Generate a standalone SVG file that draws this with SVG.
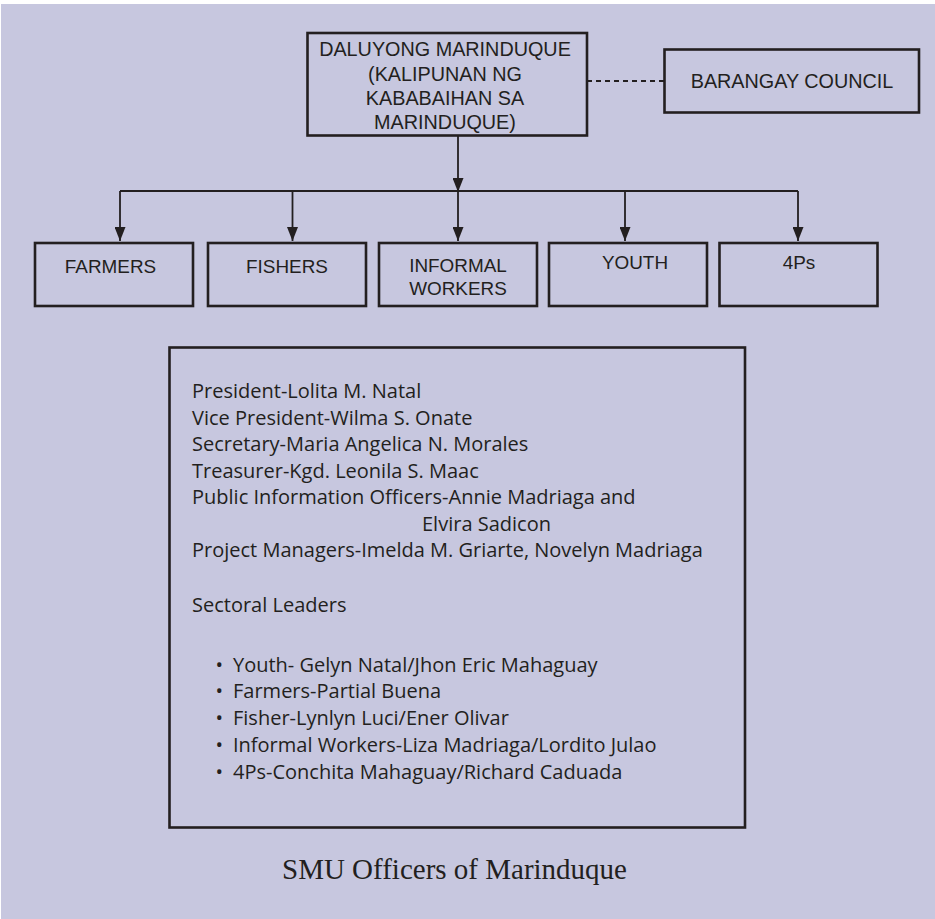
<svg xmlns="http://www.w3.org/2000/svg" width="935" height="919" viewBox="0 0 935 919">
<style>
.box{fill:none;stroke:#231f20;stroke-width:2.6}
.t{font-family:"Liberation Sans",Arial,sans-serif;fill:#231f20;font-size:19.8px}
.s{font-family:"Liberation Sans",Arial,sans-serif;fill:#231f20;font-size:18.9px}
.c{text-anchor:middle}
.b{font-family:"Open Sans","Liberation Sans",sans-serif;fill:#231f20;font-size:20px}
.cap{font-family:"Liberation Serif",serif;fill:#231f20;font-size:29px;text-anchor:middle}
.ln{stroke:#231f20;stroke-width:1.8;fill:none}
</style>
<defs>
<marker id="ah" markerUnits="userSpaceOnUse" markerWidth="14" markerHeight="11" viewBox="0 0 14 11" refX="14" refY="5.5" orient="auto">
<path d="M0,0 L14,5.5 L0,11 z" fill="#231f20"/>
</marker>
</defs>
<rect x="0" y="0" width="935" height="919" fill="#ffffff"/>
<rect x="1" y="4" width="934" height="915" fill="#c7c7df"/>
<g id="connectors">
<line class="ln" x1="587" y1="81" x2="664" y2="81" stroke-dasharray="5,4"/>
<line class="ln" x1="458" y1="136" x2="458" y2="192" marker-end="url(#ah)"/>
<line class="ln" x1="120" y1="191" x2="798" y2="191"/>
<line class="ln" x1="120" y1="191" x2="120" y2="241" marker-end="url(#ah)"/>
<line class="ln" x1="292.5" y1="191" x2="292.5" y2="241" marker-end="url(#ah)"/>
<line class="ln" x1="458" y1="191" x2="458" y2="241" marker-end="url(#ah)"/>
<line class="ln" x1="625" y1="191" x2="625" y2="241" marker-end="url(#ah)"/>
<line class="ln" x1="798" y1="191" x2="798" y2="241" marker-end="url(#ah)"/>
</g>
<g id="daluyong">
<rect class="box" x="307.5" y="33" width="279.5" height="102.5"/>
<text class="t c" x="445" y="56">DALUYONG MARINDUQUE</text>
<text class="t c" x="445" y="80.5">(KALIPUNAN NG</text>
<text class="t c" x="445" y="104.5">KABABAIHAN SA</text>
<text class="t c" x="445" y="128.5">MARINDUQUE)</text>
</g>
<g id="barangay">
<rect class="box" x="664.5" y="49.5" width="254.5" height="63"/>
<text class="t c" x="792" y="87.5">BARANGAY COUNCIL</text>
</g>
<g id="farmers">
<rect class="box" x="35" y="243" width="158" height="63"/>
<text class="s c" x="110.5" y="272.5">FARMERS</text>
</g>
<g id="fishers">
<rect class="box" x="208" y="243" width="158" height="63"/>
<text class="s c" x="287" y="272.5">FISHERS</text>
</g>
<g id="informal">
<rect class="box" x="379" y="243" width="158" height="63"/>
<text class="s c" x="458" y="271.5">INFORMAL</text>
<text class="s c" x="458" y="294.5">WORKERS</text>
</g>
<g id="youth">
<rect class="box" x="549" y="243" width="158" height="63"/>
<text class="s c" x="635" y="269">YOUTH</text>
</g>
<g id="fourps">
<rect class="box" x="719.5" y="243" width="158" height="63"/>
<text class="s c" x="799" y="269">4Ps</text>
</g>
<g id="officers">
<rect class="box" x="169.5" y="347.5" width="575.5" height="480"/>
<text class="b" x="192" y="398">President-Lolita M. Natal</text>
<text class="b" x="192" y="424.5">Vice President-Wilma S. Onate</text>
<text class="b" x="192" y="451">Secretary-Maria Angelica N. Morales</text>
<text class="b" x="192" y="477.5">Treasurer-Kgd. Leonila S. Maac</text>
<text class="b" x="192" y="504">Public Information Officers-Annie Madriaga and</text>
<text class="b" x="422" y="530.5">Elvira Sadicon</text>
<text class="b" x="192" y="557">Project Managers-Imelda M. Griarte, Novelyn Madriaga</text>
<text class="b" x="192" y="611.5">Sectoral Leaders</text>
<text class="b" x="215.5" y="671.5">•</text>
<text class="b" x="233" y="671.5">Youth- Gelyn Natal/Jhon Eric Mahaguay</text>
<text class="b" x="215.5" y="698">•</text>
<text class="b" x="233" y="698">Farmers-Partial Buena</text>
<text class="b" x="215.5" y="725">•</text>
<text class="b" x="233" y="725">Fisher-Lynlyn Luci/Ener Olivar</text>
<text class="b" x="215.5" y="751.5">•</text>
<text class="b" x="233" y="751.5">Informal Workers-Liza Madriaga/Lordito Julao</text>
<text class="b" x="215.5" y="778.5">•</text>
<text class="b" x="233" y="778.5">4Ps-Conchita Mahaguay/Richard Caduada</text>
</g>
<text class="cap" x="454.5" y="879">SMU Officers of Marinduque</text>
</svg>
